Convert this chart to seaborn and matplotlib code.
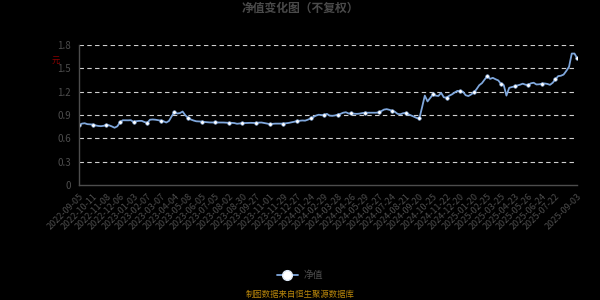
import numpy as np
import pandas as pd
import matplotlib
matplotlib.use("Agg")
import matplotlib.pyplot as plt
import seaborn as sns
from matplotlib.lines import Line2D

tick_labels = [
    "2022-09-05", "2022-10-11", "2022-11-08", "2022-12-06", "2023-01-03", "2023-02-07",
    "2023-03-07", "2023-04-04", "2023-05-08", "2023-06-05", "2023-07-05", "2023-08-02",
    "2023-08-30", "2023-09-27", "2023-11-01", "2023-11-29", "2023-12-27", "2024-01-24",
    "2024-02-29", "2024-03-28", "2024-04-26", "2024-05-29", "2024-06-27", "2024-07-24",
    "2024-08-21", "2024-09-20", "2024-10-25", "2024-11-22", "2024-12-20", "2025-01-20",
    "2025-02-25", "2025-03-25", "2025-04-23", "2025-05-26", "2025-06-24", "2025-07-22",
    "2025-09-03",
]

nav = [
    0.770, 0.790, 0.795, 0.783, 0.780, 0.778, 0.767, 0.760, 0.757, 0.762,
    0.774, 0.768, 0.754, 0.737, 0.755, 0.806, 0.833, 0.832, 0.832, 0.834,
    0.810, 0.821, 0.825, 0.825, 0.810, 0.800, 0.840, 0.843, 0.840, 0.834,
    0.828, 0.820, 0.804, 0.825, 0.885, 0.940, 0.920, 0.925, 0.945, 0.897,
    0.866, 0.843, 0.830, 0.820, 0.818, 0.816, 0.811, 0.808, 0.805, 0.805,
    0.805, 0.806, 0.806, 0.804, 0.802, 0.800, 0.800, 0.797, 0.788, 0.792,
    0.796, 0.797, 0.798, 0.800, 0.798, 0.797, 0.803, 0.804, 0.797, 0.790,
    0.784, 0.787, 0.790, 0.790, 0.790, 0.790, 0.794, 0.799, 0.806, 0.814,
    0.823, 0.827, 0.830, 0.828, 0.840, 0.856, 0.873, 0.893, 0.904, 0.900,
    0.898, 0.915, 0.893, 0.890, 0.895, 0.905, 0.915, 0.930, 0.936, 0.920,
    0.920, 0.917, 0.915, 0.918, 0.925, 0.930, 0.930, 0.930, 0.930, 0.930,
    0.933, 0.950, 0.970, 0.976, 0.967, 0.956, 0.942, 0.915, 0.910, 0.923,
    0.928, 0.910, 0.895, 0.879, 0.863, 0.857, 1.000, 1.150, 1.075, 1.120,
    1.165, 1.150, 1.145, 1.185, 1.127, 1.125, 1.149, 1.166, 1.190, 1.211,
    1.203, 1.200, 1.155, 1.144, 1.164, 1.190, 1.232, 1.283, 1.310, 1.357,
    1.400, 1.365, 1.378, 1.360, 1.345, 1.300, 1.286, 1.150, 1.250, 1.260,
    1.268, 1.280, 1.290, 1.303, 1.290, 1.287, 1.308, 1.315, 1.293, 1.295,
    1.302, 1.306, 1.300, 1.288, 1.315, 1.360, 1.400, 1.405, 1.420, 1.467,
    1.520, 1.690, 1.690, 1.630,
]

tick_pos = list(range(0, 180, 5)) + [len(nav) - 1]

sns.set_theme(style="dark")
plt.rcParams["font.family"] = ["Noto Sans CJK SC", "DejaVu Sans"]
plt.rcParams["axes.unicode_minus"] = False

BG = "#000000"
GREY = "#4d4d4d"
LINE = "#7fa7dc"

fig = plt.figure(figsize=(6, 3), dpi=100, facecolor=BG)
ax = fig.add_axes([0.132, 0.383, 0.830, 0.467])
ax.set_facecolor(BG)

df = pd.DataFrame({"idx": np.arange(len(nav)), "净值": nav})
sns.lineplot(data=df, x="idx", y="净值", ax=ax, color=LINE, linewidth=1.3)
mk = tick_pos
ax.plot(df["idx"].iloc[mk], df["净值"].iloc[mk], linestyle="none", marker="o",
        markersize=2.6, markerfacecolor="white", markeredgecolor=LINE, markeredgewidth=0.4)

ax.set_xlim(0, len(nav) - 1)
ax.set_ylim(0, 1.8)
yt = [0, 0.3, 0.6, 0.9, 1.2, 1.5, 1.8]
ax.set_yticks(yt)
ax.set_yticklabels(["0", "0.3", "0.6", "0.9", "1.2", "1.5", "1.8"], color=GREY, fontsize=7)
ax.set_xticks(tick_pos)
ax.set_xticklabels(tick_labels, rotation=45, ha="right", rotation_mode="anchor",
                   color=GREY, fontsize=6.5)
ax.tick_params(axis="x", length=3, color=GREY, pad=2)
ax.tick_params(axis="y", length=0, pad=6)
ax.set_xlabel("")
ax.set_ylabel("")
ax.grid(False)
for y in yt[1:]:
    ax.axhline(y, color="#cfcfcf", linestyle=(0, (4, 3)), linewidth=0.8, zorder=0)

for s in ["top", "right"]:
    ax.spines[s].set_visible(False)
for s in ["left", "bottom"]:
    ax.spines[s].set_visible(True)
    ax.spines[s].set_color(GREY)
    ax.spines[s].set_linewidth(1)

fig.text(0.5, 0.972, "净值变化图（不复权）", ha="center", va="center",
         color="#4a4a4a", fontsize=8.5, fontweight="bold")
fig.text(0.093, 0.8, "元", ha="center", va="center", color="#8b0000", fontsize=6)

handle = Line2D([0], [0], color=LINE, linewidth=1.3, marker="o", markersize=7,
                markerfacecolor="white", markeredgecolor="#dfe9f7", markeredgewidth=1)
leg = fig.legend([handle], ["净值"], loc="center", bbox_to_anchor=(0.5, 0.083),
                 frameon=False, fontsize=7, labelcolor=GREY, handlelength=2.2,
                 handletextpad=0.6)

fig.text(0.5, 0.017, "制图数据来自恒生聚源数据库", ha="center", va="center",
         color="#b8860b", fontsize=6)

fig.savefig("out.png", dpi=100, facecolor=BG)
